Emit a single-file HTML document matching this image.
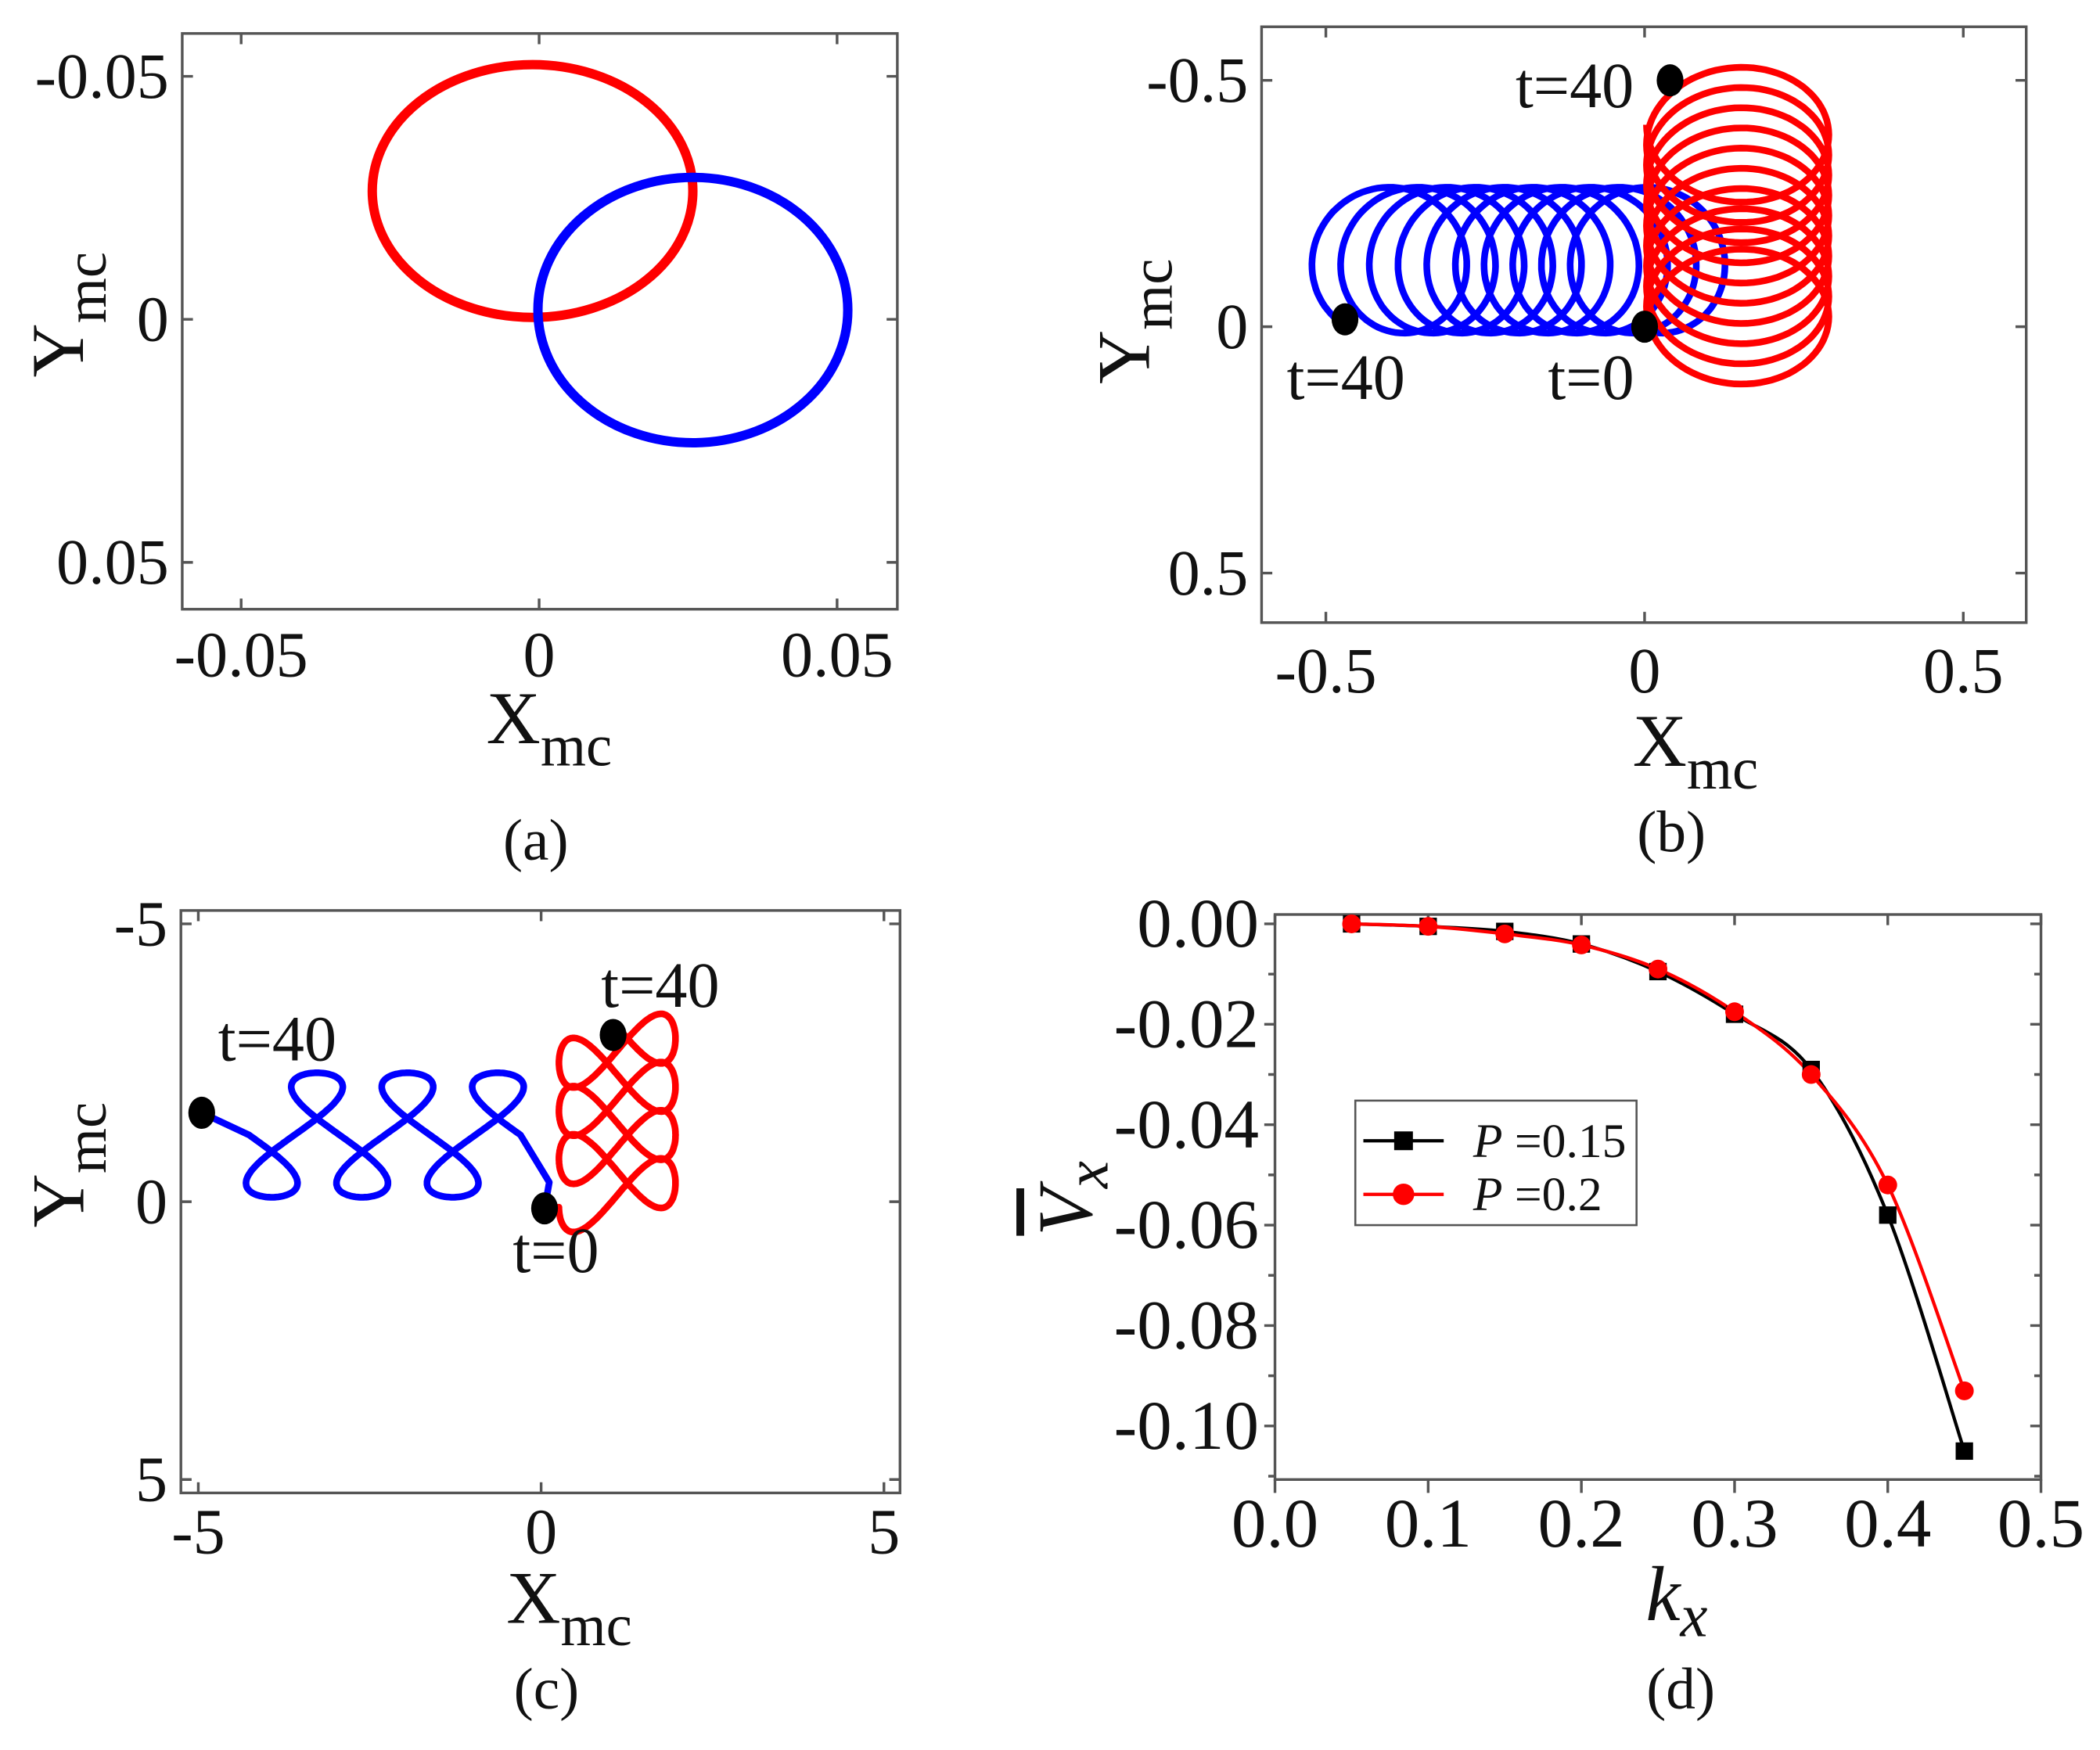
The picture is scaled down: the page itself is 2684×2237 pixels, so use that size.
<!DOCTYPE html>
<html><head><meta charset="utf-8">
<style>
html,body{margin:0;padding:0;background:#fff;}
svg{display:block;}
text{font-family:"Liberation Serif",serif;fill:#111;}
</style></head>
<body>
<svg id="fig" xmlns="http://www.w3.org/2000/svg" width="2684" height="2237" viewBox="0 0 1568 1307">
<rect x="0" y="0" width="1568" height="1307" fill="#fff"/>
<g id="pa"></g>
<g id="pb"></g>
<g id="pc"></g>
<g id="pd"></g>
</svg>
<script>
// ---- panel (a) data ----
const aTicks = [-0.05, 0, 0.05];
const aTickLabels = ["-0.05", "0", "0.05"];
const aRedCenter = [-0.0011, -0.0264];
const aRedRadius = [0.0269, 0.026];
const aBlueCenter = [0.0258, -0.0019];
const aBlueRadius = [0.026, 0.0273];
// ---- panel (b) data ----
const bTicks = [-0.5, 0, 0.5];
const bTickLabels = ["-0.5", "0", "0.5"];
const bBlueCenterStart = [0.03, -0.135];
const bBlueCenterEnd = [-0.42, -0.135];
const bBlueRadius = [0.11, 0.148];
const bRedCenterStart = [0.146, 0.0];
const bRedCenterEnd = [0.146, -0.41];
const bRedRadius = [0.143, 0.147];
const bLoops = [10, 10];
const bDots = [[-0.47, -0.015], [0.0, 0.0], [0.04, -0.5]];
const bDotLabels = ["t=40", "t=0", "t=40"];
// ---- panel (c) data ----
const cTicks = [-5, 0, 5];
const cTickLabels = ["-5", "0", "5"];
const cBlueParams = [-0.3, 1.2, 0.21, 0.53, 1.12]; // x0, y-centre, drift/rad, loop amp, y amp
const cRedParams = [1.11, 0.1, 0.138, 0.55, 0.85];  // x-centre, y0, drift/rad, loop amp, x amp
const cDots = [[-4.95, -1.6], [0.05, 0.12], [1.05, -3.0]];
const cDotLabels = ["t=40", "t=0", "t=40"];
// ---- panel (d) data ----
const dK = [0.05, 0.10, 0.15, 0.20, 0.25, 0.30, 0.35, 0.40, 0.45];
const dP015 = [0, -0.0005, -0.0015, -0.004, -0.0095, -0.018, -0.029, -0.058, -0.105];
const dP02 = [0, -0.0005, -0.002, -0.0042, -0.009, -0.0175, -0.030, -0.052, -0.093];
const dXTicks = [0, 0.1, 0.2, 0.3, 0.4, 0.5];
const dXTickLabels = ["0.0", "0.1", "0.2", "0.3", "0.4", "0.5"];
const dYTicks = [0, -0.02, -0.04, -0.06, -0.08, -0.10];
const dYTickLabels = ["0.00", "-0.02", "-0.04", "-0.06", "-0.08", "-0.10"];
const dLegend = ["P =0.15", "P =0.2"];

const NS = "http://www.w3.org/2000/svg";
function mk(parent, tag, attrs) {
  const e = document.createElementNS(NS, tag);
  for (const k in attrs) e.setAttribute(k, attrs[k]);
  parent.appendChild(e);
  return e;
}
function lin(d0, d1, r0, r1) { return v => r0 + (v - d0) * (r1 - r0) / (d1 - d0); }

function frame(g, x0, y0, x1, y1) {
  const r = mk(g, "rect", {x: x0, y: y0, width: x1 - x0, height: y1 - y0, fill: "none", stroke: "#555", "stroke-width": 2});
  
  
}
function label(g, x, y, txt, size, anchor, name) {
  const t = mk(g, "text", {x: x, y: y, "font-size": size, "text-anchor": anchor || "middle"});
  t.textContent = txt;
  
  
  return t;
}
function subLabel(g, x, y, main, sub, size, rot, name) {
  const t = mk(g, "text", {x: x, y: y, "font-size": size, "text-anchor": "middle"});
  if (rot) t.setAttribute("transform", "rotate(-90 " + x + " " + y + ")");
  const a = mk(t, "tspan", {}); a.textContent = main;
  const b = mk(t, "tspan", {dy: size * 0.3, "font-size": size * 0.78}); b.textContent = sub;
  
  
}
function matlabAxes(g, box, ticks, labels, sx, sy, labelBase) {
  const [x0, y0, x1, y1] = box;
  frame(g, x0, y0, x1, y1);
  ticks.forEach((v, i) => {
    const X = sx(v), Y = sy(v);
    let t = mk(g, "path", {d: `M${X} ${y1}v-8M${X} ${y0}v8M${x0} ${Y}h8M${x1} ${Y}h-8`, stroke: "#555", "stroke-width": 2});
    
    
    label(g, X, labelBase, labels[i], 48, "middle", 'x-tick-label');
    label(g, x0 - 10, Y + 16, labels[i], 48, "end", 'y-tick-label');
  });
}
function pathFrom(pts) { return "M" + pts.map(p => p[0].toFixed(1) + " " + p[1].toFixed(1)).join("L"); }
function dot(g, x, y, name) {
  const c = mk(g, "ellipse", {cx: x, cy: y, rx: 10, ry: 12, fill: "#000"});
  
  
}

// ===== Panel (a) =====
(function () {
  const g = document.getElementById("pa");
  const box = [136, 25, 670, 455];
  const sx = lin(-0.05, 0.05, 180, 625), sy = lin(-0.05, 0.05, 57, 420);
  matlabAxes(g, box, aTicks, aTickLabels, sx, sy, 505);
  const red = mk(g, "ellipse", {cx: sx(aRedCenter[0]), cy: sy(aRedCenter[1]), rx: sx(aRedRadius[0]) - sx(0), ry: sy(aRedRadius[1]) - sy(0), fill: "none", stroke: "#ff0000", "stroke-width": 7});
  
  
  const blue = mk(g, "ellipse", {cx: sx(aBlueCenter[0]), cy: sy(aBlueCenter[1]), rx: sx(aBlueRadius[0]) - sx(0), ry: sy(aBlueRadius[1]) - sy(0), fill: "none", stroke: "#0000ff", "stroke-width": 7});
  
  
  subLabel(g, 410, 555, "X", "mc", 56, false, 'x-axis-title');
  subLabel(g, 62, 235, "Y", "mc", 56, true, 'y-axis-title');
  label(g, 400, 642, "(a)", 44, "middle", 'panel-label-a');
})();

// ===== Panel (b) =====
(function () {
  const g = document.getElementById("pb");
  const box = [942, 20, 1513, 465];
  const sx = lin(-0.5, 0.5, 990, 1466), sy = lin(-0.5, 0.5, 60, 428);
  matlabAxes(g, box, bTicks, bTickLabels, sx, sy, 517);
  function loops(c0, c1, rad, n, mode) {
    const pts = [], N = 900;
    for (let i = 0; i <= N; i++) {
      const f = i / N, th = f * 2 * Math.PI * n;
      const cx = c0[0] + (c1[0] - c0[0]) * f, cy = c0[1] + (c1[1] - c0[1]) * f;
      let px, py;
      if (mode === 0) { px = cx + rad[0] * Math.sin(th - 0.4); py = cy + rad[1] * Math.cos(th - 0.4); }
      else { px = cx - rad[0] * Math.cos(th); py = cy - rad[1] * Math.sin(th); }
      pts.push([sx(px), sy(py)]);
    }
    return pts;
  }
  const bp = mk(g, "path", {d: pathFrom(loops(bBlueCenterStart, bBlueCenterEnd, bBlueRadius, bLoops[0], 0)), fill: "none", stroke: "#0000ff", "stroke-width": 5});
  
  
  const rp = mk(g, "path", {d: pathFrom(loops(bRedCenterStart, bRedCenterEnd, bRedRadius, bLoops[1], 1)), fill: "none", stroke: "#ff0000", "stroke-width": 5});
  
  
  bDots.forEach((d, i) => dot(g, sx(d[0]), sy(d[1]), 'marker-dot'));
  label(g, 1005, 298, bDotLabels[0], 48, "middle", 'annotation-t40-blue');
  label(g, 1188, 298, bDotLabels[1], 48, "middle", 'annotation-t0');
  label(g, 1220, 80, bDotLabels[2], 48, "end", 'annotation-t40-red');
  subLabel(g, 1266, 572, "X", "mc", 56, false, 'x-axis-title');
  subLabel(g, 858, 240, "Y", "mc", 56, true, 'y-axis-title');
  label(g, 1248, 636, "(b)", 44, "middle", 'panel-label-b');
})();

// ===== Panel (c) =====
(function () {
  const g = document.getElementById("pc");
  const box = [135, 680, 672, 1115];
  const sx = lin(-5, 5, 148, 660), sy = lin(-5, 5, 690, 1105);
  matlabAxes(g, box, cTicks, cTickLabels, sx, sy, 1160);
  const [bx0, byc, bv, bB, bA] = cBlueParams;
  const bpts = [[sx(0.05), sy(0.12)], [sx(0.12), sy(-0.35)]];
  for (let i = 0; i <= 700; i++) {
    const t = i / 700 * 6 * Math.PI;
    const x = bx0 - bv * t - bB * Math.sin(2 * t);
    const y = -byc - bA * Math.sin(t);
    bpts.push([sx(x), sy(y)]);
  }
  bpts.push([sx(cDots[0][0]), sy(cDots[0][1])]);
  const bp = mk(g, "path", {d: pathFrom(bpts), fill: "none", stroke: "#0000ff", "stroke-width": 5, "stroke-linejoin": "round"});
  
  
  const [rxc, ry0, rv, rB, rA] = cRedParams;
  const rpts = [[sx(0.05), sy(0.12)]];
  for (let i = 0; i <= 800; i++) {
    const t = i / 800 * 7.5 * Math.PI;
    const x = rxc - rA * Math.cos(t);
    const y = ry0 - rv * t + rB * Math.sin(2 * t);
    rpts.push([sx(x), sy(y)]);
  }
  const rp = mk(g, "path", {d: pathFrom(rpts), fill: "none", stroke: "#ff0000", "stroke-width": 5, "stroke-linejoin": "round"});
  
  
  cDots.forEach(d => dot(g, sx(d[0]), sy(d[1]), 'marker-dot'));
  label(g, 207, 792, cDotLabels[0], 48, "middle", 'annotation-t40-blue');
  label(g, 415, 950, cDotLabels[1], 48, "middle", 'annotation-t0');
  label(g, 493, 752, cDotLabels[2], 48, "middle", 'annotation-t40-red');
  subLabel(g, 425, 1212, "X", "mc", 56, false, 'x-axis-title');
  subLabel(g, 62, 870, "Y", "mc", 56, true, 'y-axis-title');
  label(g, 408, 1276, "(c)", 44, "middle", 'panel-label-c');
})();

// ===== Panel (d) =====
(function () {
  const g = document.getElementById("pd");
  const x0 = 952, x1 = 1524, y0 = 683, y1 = 1105;
  const sx = lin(0, 0.5, 952, 1524), sy = lin(0, -0.10, 690, 1065);
  frame(g, x0, y0, x1, y1);
  dXTicks.forEach((v, i) => {
    const t = mk(g, "path", {d: `M${sx(v)} ${y1}v10M${sx(v)} ${y0}v8`, stroke: "#555", "stroke-width": 2});
    
    
    label(g, sx(v), 1155, dXTickLabels[i], 52, "middle", 'x-tick-label');
  });
  dYTicks.forEach((v, i) => {
    const t = mk(g, "path", {d: `M${x0} ${sy(v)}h-8M${x1} ${sy(v)}h-8M${x1} ${sy(v - 0.01)}h-5M${x0} ${sy(v - 0.01)}h-5`, stroke: "#555", "stroke-width": 2});
    
    
    label(g, 940, sy(v) + 17, dYTickLabels[i], 52, "end", 'y-tick-label');
  });
  function smooth(xs, ys) {
    const p = xs.map((x, i) => [sx(x), sy(ys[i])]);
    let d = "M" + p[0][0] + " " + p[0][1];
    for (let i = 0; i < p.length - 1; i++) {
      const a = p[Math.max(0, i - 1)], b = p[i], c = p[i + 1], e = p[Math.min(p.length - 1, i + 2)];
      d += `C${b[0] + (c[0] - a[0]) / 6} ${b[1] + (c[1] - a[1]) / 6} ${c[0] - (e[0] - b[0]) / 6} ${c[1] - (e[1] - b[1]) / 6} ${c[0]} ${c[1]}`;
    }
    return d;
  }
  const l1 = mk(g, "path", {d: smooth(dK, dP015), fill: "none", stroke: "#000", "stroke-width": 2.5});
  
  
  const l2 = mk(g, "path", {d: smooth(dK, dP02), fill: "none", stroke: "#ff0000", "stroke-width": 2.5});
  
  
  dK.forEach((k, i) => {
    const s = mk(g, "rect", {x: sx(k) - 6.5, y: sy(dP015[i]) - 6.5, width: 13, height: 13, fill: "#000"});
    
    
  });
  dK.forEach((k, i) => {
    const c = mk(g, "circle", {cx: sx(k), cy: sy(dP02[i]), r: 7, fill: "#ff0000"});
    
    
  });
  const lg = mk(g, "g", {});
  
  
  mk(lg, "rect", {x: 1012, y: 822, width: 210, height: 93, fill: "#fff", stroke: "#555", "stroke-width": 1.5});
  const e1 = mk(lg, "path", {d: "M1018 852h60", stroke: "#000", "stroke-width": 2.5});
  
  
  mk(lg, "rect", {x: 1041, y: 845, width: 14, height: 14, fill: "#000"});
  const e2 = mk(lg, "path", {d: "M1018 892h60", stroke: "#ff0000", "stroke-width": 2.5});
  
  
  mk(lg, "circle", {cx: 1048, cy: 892, r: 8, fill: "#ff0000"});
  dLegend.forEach((txt, i) => {
    const t = mk(lg, "text", {x: 1100, y: 864 + 40 * i, "font-size": 36});
    const a = mk(t, "tspan", {"font-style": "italic"}); a.textContent = txt.split(" ")[0];
    const b = mk(t, "tspan", {}); b.textContent = " " + txt.split(" ")[1];
    
    
  });
  const xt = mk(g, "text", {x: 1252, y: 1210, "font-size": 58, "text-anchor": "middle", "font-style": "italic"});
  const k1 = mk(xt, "tspan", {}); k1.textContent = "k";
  const k2 = mk(xt, "tspan", {dy: 12, "font-size": 46}); k2.textContent = "x";
  
  
  const yt = mk(g, "text", {x: 815, y: 895, "font-size": 58, "text-anchor": "middle", "font-style": "italic", transform: "rotate(-90 815 895)"});
  const v1 = mk(yt, "tspan", {"text-decoration": "overline"}); v1.textContent = "V";
  const v2 = mk(yt, "tspan", {dy: 12, "font-size": 46}); v2.textContent = "x";
  
  
  label(g, 1255, 1276, "(d)", 44, "middle", 'panel-label-d');
})();
</script>
</body></html>
